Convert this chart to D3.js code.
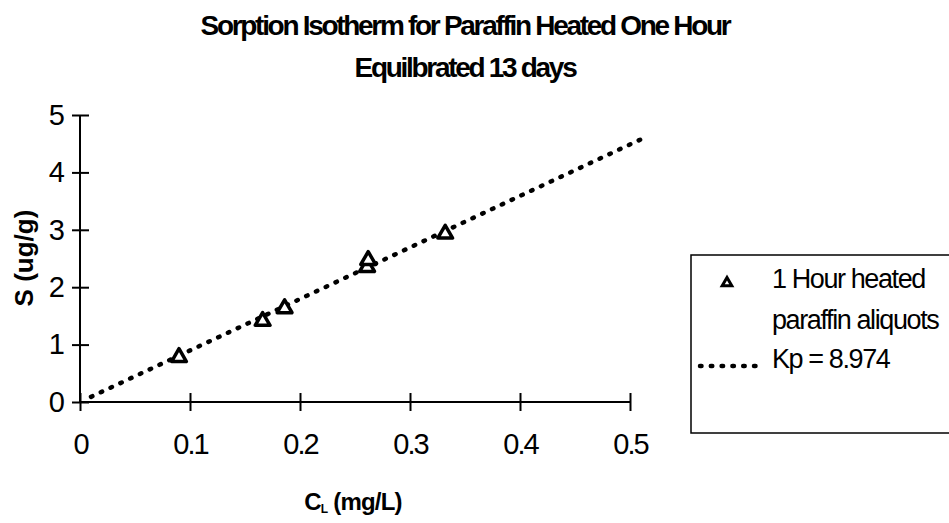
<!DOCTYPE html>
<html>
<head>
<meta charset="utf-8">
<script src="https://cdn.jsdelivr.net/npm/d3@7"></script>
<style>
  body { margin: 0; background: #fff; }
  svg { display: block; }
  text { font-family: "Liberation Sans", Arial, sans-serif; fill: #000; }
</style>
</head>
<body>
<script>
// data
var titleLines = ["Sorption Isotherm for Paraffin Heated One Hour", "Equilbrated 13 days"];
var concL = [0.090, 0.166, 0.186, 0.261, 0.262, 0.332];   // C_L (mg/L)
var sorbed = [0.78, 1.41, 1.63, 2.35, 2.47, 2.93];        // S (ug/g)
var kp = 8.974;
var fitRange = [0.01, 0.515];
var xTicks = [0, 0.1, 0.2, 0.3, 0.4, 0.5];
var yTicks = [0, 1, 2, 3, 4, 5];
var seriesName = ["1 Hour heated", "paraffin aliquots"];
var fitName = "Kp = 8.974";

var W = 949, H = 523;

// margin
var margin = {top: 115, right: 319, bottom: 121, left: 80},
    width = W - margin.left - margin.right,
    height = H - margin.top - margin.bottom;

var svg = d3.select("body").append("svg")
    .attr("width", W)
    .attr("height", H);

var x = d3.scaleLinear().domain([0, 0.5]).range([0, width]);
var y = d3.scaleLinear().domain([0, 5]).range([height, 0]);

var g = svg.append("g")
    .attr("transform", "translate(" + margin.left + "," + margin.top + ")");

// title
svg.selectAll(".title")
    .data(titleLines)
  .enter().append("text")
    .attr("class", "title")
    .attr("x", 465)
    .attr("y", function(d, i) { return 35 + i * 42; })
    .attr("text-anchor", "middle")
    .style("font-weight", "bold")
    .style("font-size", "28px")
    .style("letter-spacing", "-2.3px")
    .text(function(d) { return d; });

// axes
var xAxis = g.append("g")
    .attr("transform", "translate(0," + height + ")")
    .call(d3.axisBottom(x).tickValues(xTicks).tickSize(9).tickPadding(22)
      .tickFormat(function(d) { return d === 0 ? "0" : d3.format(".1f")(d); }));
xAxis.selectAll(".tick line").attr("y1", -9);

var yAxis = g.append("g")
    .call(d3.axisLeft(y).tickValues(yTicks).tickSize(8).tickPadding(9).tickFormat(d3.format("d")));
yAxis.selectAll(".tick line").attr("x1", 9);

xAxis.select(".domain").attr("d", "M0,0H" + width);
yAxis.select(".domain").attr("d", "M0,0V" + height);
g.selectAll(".domain").attr("stroke", "#000").attr("stroke-width", 2);
g.selectAll(".tick line").attr("stroke", "#000").attr("stroke-width", 2);
g.selectAll(".tick text")
    .style("font-size", "29px")
    .style("letter-spacing", "-2px")
    .style("font-family", "'Liberation Sans', Arial, sans-serif");
xAxis.selectAll(".tick text").attr("dy", "0.71em");

// axis titles
svg.append("text")
    .attr("transform", "translate(33,258) rotate(-90)")
    .attr("text-anchor", "middle")
    .style("font-weight", "bold")
    .style("font-size", "26px")
    .text("S (ug/g)");

var xl = svg.append("text")
    .attr("x", 353)
    .attr("y", 510)
    .attr("text-anchor", "middle")
    .style("font-weight", "bold")
    .style("font-size", "24px")
    .style("letter-spacing", "-0.8px");
xl.append("tspan").text("C");
xl.append("tspan").attr("dy", 3).style("font-size", "12px").text("L");
xl.append("tspan").attr("dy", -3).text(" (mg/L)");

// fitted line S = Kp * C_L
var line = d3.line()
    .x(function(d) { return x(d); })
    .y(function(d) { return y(kp * d); });

g.append("path")
    .datum(fitRange)
    .attr("d", line)
    .attr("fill", "none")
    .attr("stroke", "#000")
    .attr("stroke-width", 4.5)
    .attr("stroke-linecap", "round")
    .attr("stroke-dasharray", "1.5,9.3");

// points
var tri = d3.symbol().type(d3.symbolTriangle).size(95);
g.selectAll(".pt")
    .data(concL)
  .enter().append("path")
    .attr("class", "pt")
    .attr("d", tri)
    .attr("transform", function(d, i) { return "translate(" + x(d) + "," + y(sorbed[i]) + ")"; })
    .attr("fill", "#fff")
    .attr("stroke", "#000")
    .attr("stroke-width", 3.5)
    .attr("stroke-linejoin", "round");

// legend
var leg = svg.append("g");
leg.append("rect")
    .attr("x", 691).attr("y", 255)
    .attr("width", 270).attr("height", 178)
    .attr("fill", "none").attr("stroke", "#000").attr("stroke-width", 1.5);

leg.append("path")
    .attr("d", d3.symbol().type(d3.symbolTriangle).size(40))
    .attr("transform", "translate(727,283)")
    .attr("fill", "#fff").attr("stroke", "#000").attr("stroke-width", 3);

leg.selectAll(".sn")
    .data(seriesName)
  .enter().append("text")
    .attr("x", 772)
    .attr("y", function(d, i) { return 288 + i * 41; })
    .style("font-size", "27px")
    .style("letter-spacing", "-1.4px")
    .text(function(d) { return d; });

leg.append("line")
    .attr("x1", 700).attr("x2", 760)
    .attr("y1", 366).attr("y2", 366)
    .attr("stroke", "#000").attr("stroke-width", 4.5)
    .attr("stroke-linecap", "round")
    .attr("stroke-dasharray", "1.5,9.3");

leg.append("text")
    .attr("x", 772)
    .attr("y", 368)
    .style("font-size", "27px")
    .style("letter-spacing", "-1.4px")
    .text(fitName);
</script>
</body>
</html>
